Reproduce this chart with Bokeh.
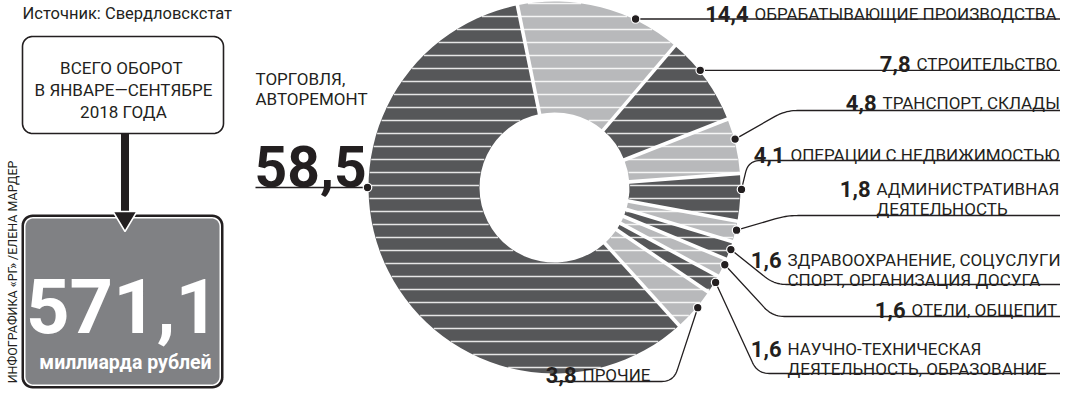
import numpy as np
from bokeh.plotting import figure
from bokeh.models import Range1d
from bokeh.embed import file_html
from bokeh.resources import INLINE
from bokeh.core.properties import value

# ---------------- data ----------------
sectors = [
    "ТОРГОВЛЯ, АВТОРЕМОНТ",
    "ОБРАБАТЫВАЮЩИЕ ПРОИЗВОДСТВА",
    "СТРОИТЕЛЬСТВО",
    "ТРАНСПОРТ, СКЛАДЫ",
    "ОПЕРАЦИИ С НЕДВИЖИМОСТЬЮ",
    "АДМИНИСТРАТИВНАЯ|ДЕЯТЕЛЬНОСТЬ",
    "ЗДРАВООХРАНЕНИЕ, СОЦУСЛУГИ|СПОРТ, ОРГАНИЗАЦИЯ ДОСУГА",
    "ОТЕЛИ, ОБЩЕПИТ",
    "НАУЧНО-ТЕХНИЧЕСКАЯ|ДЕЯТЕЛЬНОСТЬ, ОБРАЗОВАНИЕ",
    "ПРОЧИЕ",
]
shares = [58.5, 14.4, 7.8, 4.8, 4.1, 1.8, 1.6, 1.6, 1.6, 3.8]
total_value = 571.1
total_unit = "миллиарда рублей"
total_caption = ["ВСЕГО  ОБОРОТ", "В ЯНВАРЕ—СЕНТЯБРЕ", "2018 ГОДА"]
source_text = "Источник: Свердловскстат"
credit_text = "ИНФОГРАФИКА «РГ» /ЕЛЕНА МАРДЕР"

# ---------------- style / layout ----------------
DARK = "#565759"
LIGHT = "#b8b9bb"
INK = "#231f20"
BOX_GRAY = "#808184"
LABEL_FONT = "Roboto"
NUM_FONT = "Roboto"

CX, CY = 554, 187          # donut centre (picture px)
R_OUT, R_IN = 186, 75
START_DEG = -11.5           # clockwise from top, start of 2nd sector
STRIPE_Y0, STRIPE_STEP = 159, 13

# label anchor angles (clockwise from top) for each sector dot
anchor_deg = [270, 25.7, 51.2, 75, 90.6, 103.2, 109.4, 114.4, 120.5, 130]
# leader waypoints after the dot
leader_way = [
    [(255, None)],
    [(1080, None)],
    [(1080, None)],
    [(785, 110), (1080, 110)],
    [(748, 160), (1080, 160)],
    [(786, 215), (1080, 215)],
    [(774, 284), (1080, 284)],
    [(772, 316), (1080, 316)],
    [(757, 373), (1080, 373)],
    [(673, 381), (548, 381)],
]
# label text positions: (text x, baseline y of 1st line); number sits left of text
label_pos = [
    None,
    (754, 13),
    (916, 63),
    (882, 102),
    (790, 154),
    (876, 188),
    (787, 259),
    (911, 309),
    (787, 348),
    (582, 374),
]
LINE_GAP = 20
LABEL_SIZE = 17
NUM_SIZE = 22


def Y(y):
    return 405 - y


W, H = 1060, 389
p = figure(width=W, height=H, x_range=Range1d(0, 1060), y_range=Range1d(16, 405),
           output_backend="svg", toolbar_location=None, min_border=0,
           x_axis_type=None, y_axis_type=None)
p.grid.visible = False
p.outline_line_color = None
p.background_fill_color = "white"
p.border_fill_color = "white"


def txt(x, y, s, size, bold=False, font=LABEL_FONT, color=INK, align="left",
        baseline="alphabetic", angle=0.0):
    p.text(x=[x], y=[Y(y)], text=[s], text_font=value(font),
           text_font_size=value(f"{size}px"),
           text_font_style="bold" if bold else "normal",
           text_color=color, text_align=align, text_baseline=baseline, angle=angle)


def rrect(x0, y0, x1, y1, r, n=10):
    xs, ys = [], []
    corners = [(x1 - r, y0 + r, -90, 0), (x1 - r, y1 - r, 0, 90),
               (x0 + r, y1 - r, 90, 180), (x0 + r, y0 + r, 180, 270)]
    for cx, cy, a0, a1 in corners:
        for a in np.linspace(np.radians(a0), np.radians(a1), n):
            xs.append(cx + r * np.cos(a))
            ys.append(Y(cy + r * np.sin(a)))
    return xs, ys


def leader(pts, rad=12, n=12):
    out = [pts[0]]
    for i in range(1, len(pts) - 1):
        a, b, c = np.array(pts[i - 1]), np.array(pts[i]), np.array(pts[i + 1])
        d1 = (b - a) / np.linalg.norm(b - a)
        d2 = (c - b) / np.linalg.norm(c - b)
        r1 = min(rad, np.linalg.norm(b - a) * 0.5)
        r2 = min(rad, np.linalg.norm(c - b) * 0.5)
        p0, p2 = b - d1 * r1, b + d2 * r2
        for t in np.linspace(0, 1, n):
            q = (1 - t) ** 2 * p0 + 2 * (1 - t) * t * b + t ** 2 * p2
            out.append(tuple(q))
    out.append(pts[-1])
    return [q[0] for q in out], [Y(q[1]) for q in out]


def fmt(v):
    return f"{v:.1f}".replace(".", ",")


# ---------------- donut ----------------
order = list(range(1, len(shares))) + [0]
theta = START_DEG
bounds = {}
for i in order:
    span = shares[i] / sum(shares) * 360.0
    bounds[i] = (theta, theta + span)
    theta += span

for i in order:
    ts, te = bounds[i]
    p.annular_wedge(x=[CX], y=[Y(CY)], inner_radius=R_IN, outer_radius=R_OUT,
                    start_angle=np.radians(90 - te), end_angle=np.radians(90 - ts),
                    direction="anticlock",
                    fill_color=DARK if i % 2 == 0 else LIGHT, line_color=None)

# horizontal white stripes across the ring
sx0, sx1, sy = [], [], []
for yy in STRIPE_Y0 + STRIPE_STEP * np.arange(-12, 17):
    dy = yy - CY
    if abs(dy) >= R_OUT - 0.5:
        continue
    xo = np.sqrt(R_OUT ** 2 - dy ** 2) - 0.6
    if abs(dy) < R_IN:
        xi = np.sqrt(R_IN ** 2 - dy ** 2) + 0.6
        segs = [(CX - xo, CX - xi), (CX + xi, CX + xo)]
    else:
        segs = [(CX - xo, CX + xo)]
    for a, b in segs:
        sx0.append(a); sx1.append(b); sy.append(Y(yy))
p.segment(x0=sx0, y0=sy, x1=sx1, y1=sy, line_color="white", line_alpha=0.85, line_width=1.6)

# white radial gaps between sectors
gx0, gy0, gx1, gy1 = [], [], [], []
for i in order:
    t = np.radians(bounds[i][0])
    gx0.append(CX + (R_IN - 3) * np.sin(t)); gy0.append(Y(CY - (R_IN - 3) * np.cos(t)))
    gx1.append(CX + (R_OUT + 3) * np.sin(t)); gy1.append(Y(CY - (R_OUT + 3) * np.cos(t)))
p.segment(x0=gx0, y0=gy0, x1=gx1, y1=gy1, line_color="white", line_width=3.6)

# ---------------- leaders, dots, labels ----------------
dots_x, dots_y = [], []
for i in range(len(shares)):
    a = np.radians(anchor_deg[i])
    dx, dy = CX + (R_OUT + 1) * np.sin(a), CY - (R_OUT + 1) * np.cos(a)
    dots_x.append(dx); dots_y.append(Y(dy))
    pts = [(dx, dy)]
    for wx, wy in leader_way[i]:
        pts.append((wx, dy if wy is None else wy))
    lx, ly = leader(pts)
    p.line(lx, ly, line_color=INK, line_width=1.3)

p.scatter(dots_x, dots_y, size=8.5, fill_color=INK, line_color="white", line_width=1.2)

for i in range(1, len(shares)):
    tx, by = label_pos[i]
    txt(tx - 6, by, fmt(shares[i]), NUM_SIZE, bold=True, font=NUM_FONT, align="right")
    for k, line in enumerate(sectors[i].split("|")):
        txt(tx, by + k * LINE_GAP, line, LABEL_SIZE)

# main sector label
main_lines = sectors[0].replace(", ", ",|").split("|")
txt(255, 78, main_lines[0], 17)
txt(255, 98, main_lines[1], 17)
txt(254, 166, fmt(shares[0]), 57, bold=True, font=NUM_FONT)

# ---------------- left panel ----------------
txt(22, 13, source_text, 16.5)

bx, by_ = rrect(22, 36, 223, 133, 10)
p.patch(bx, by_, fill_color="white", line_color=INK, line_width=1.6)
for k, s in enumerate(total_caption):
    txt(123, 67 + k * 22, s, 17, align="center")

# outer box with double border
bx, by_ = rrect(21, 214, 223, 388, 11)
p.patch(bx, by_, fill_color=INK, line_color=None)
bx, by_ = rrect(23.5, 216.5, 220.5, 385.5, 9)
p.patch(bx, by_, fill_color="white", line_color=None)
bx, by_ = rrect(25, 218, 219, 384, 8)
p.patch(bx, by_, fill_color=BOX_GRAY, line_color=None)

# arrow
p.quad(left=[120.5], right=[128.5], top=[Y(133)], bottom=[Y(214)], fill_color=INK, line_color=None)
p.patch([112.5, 136.5, 124.5], [Y(211), Y(211), Y(231)], fill_color=INK, line_color="white", line_width=1.5)

txt(122, 305, fmt(total_value), 76, bold=True, font=NUM_FONT, color="white", align="center")
txt(125, 362, total_unit, 19.5, bold=True, font=NUM_FONT, color="white", align="center")

# vertical credit
txt(12, 160, credit_text, 12.5, align="right", angle=np.pi / 2)

open("out.html", "w").write(file_html(p, INLINE))
